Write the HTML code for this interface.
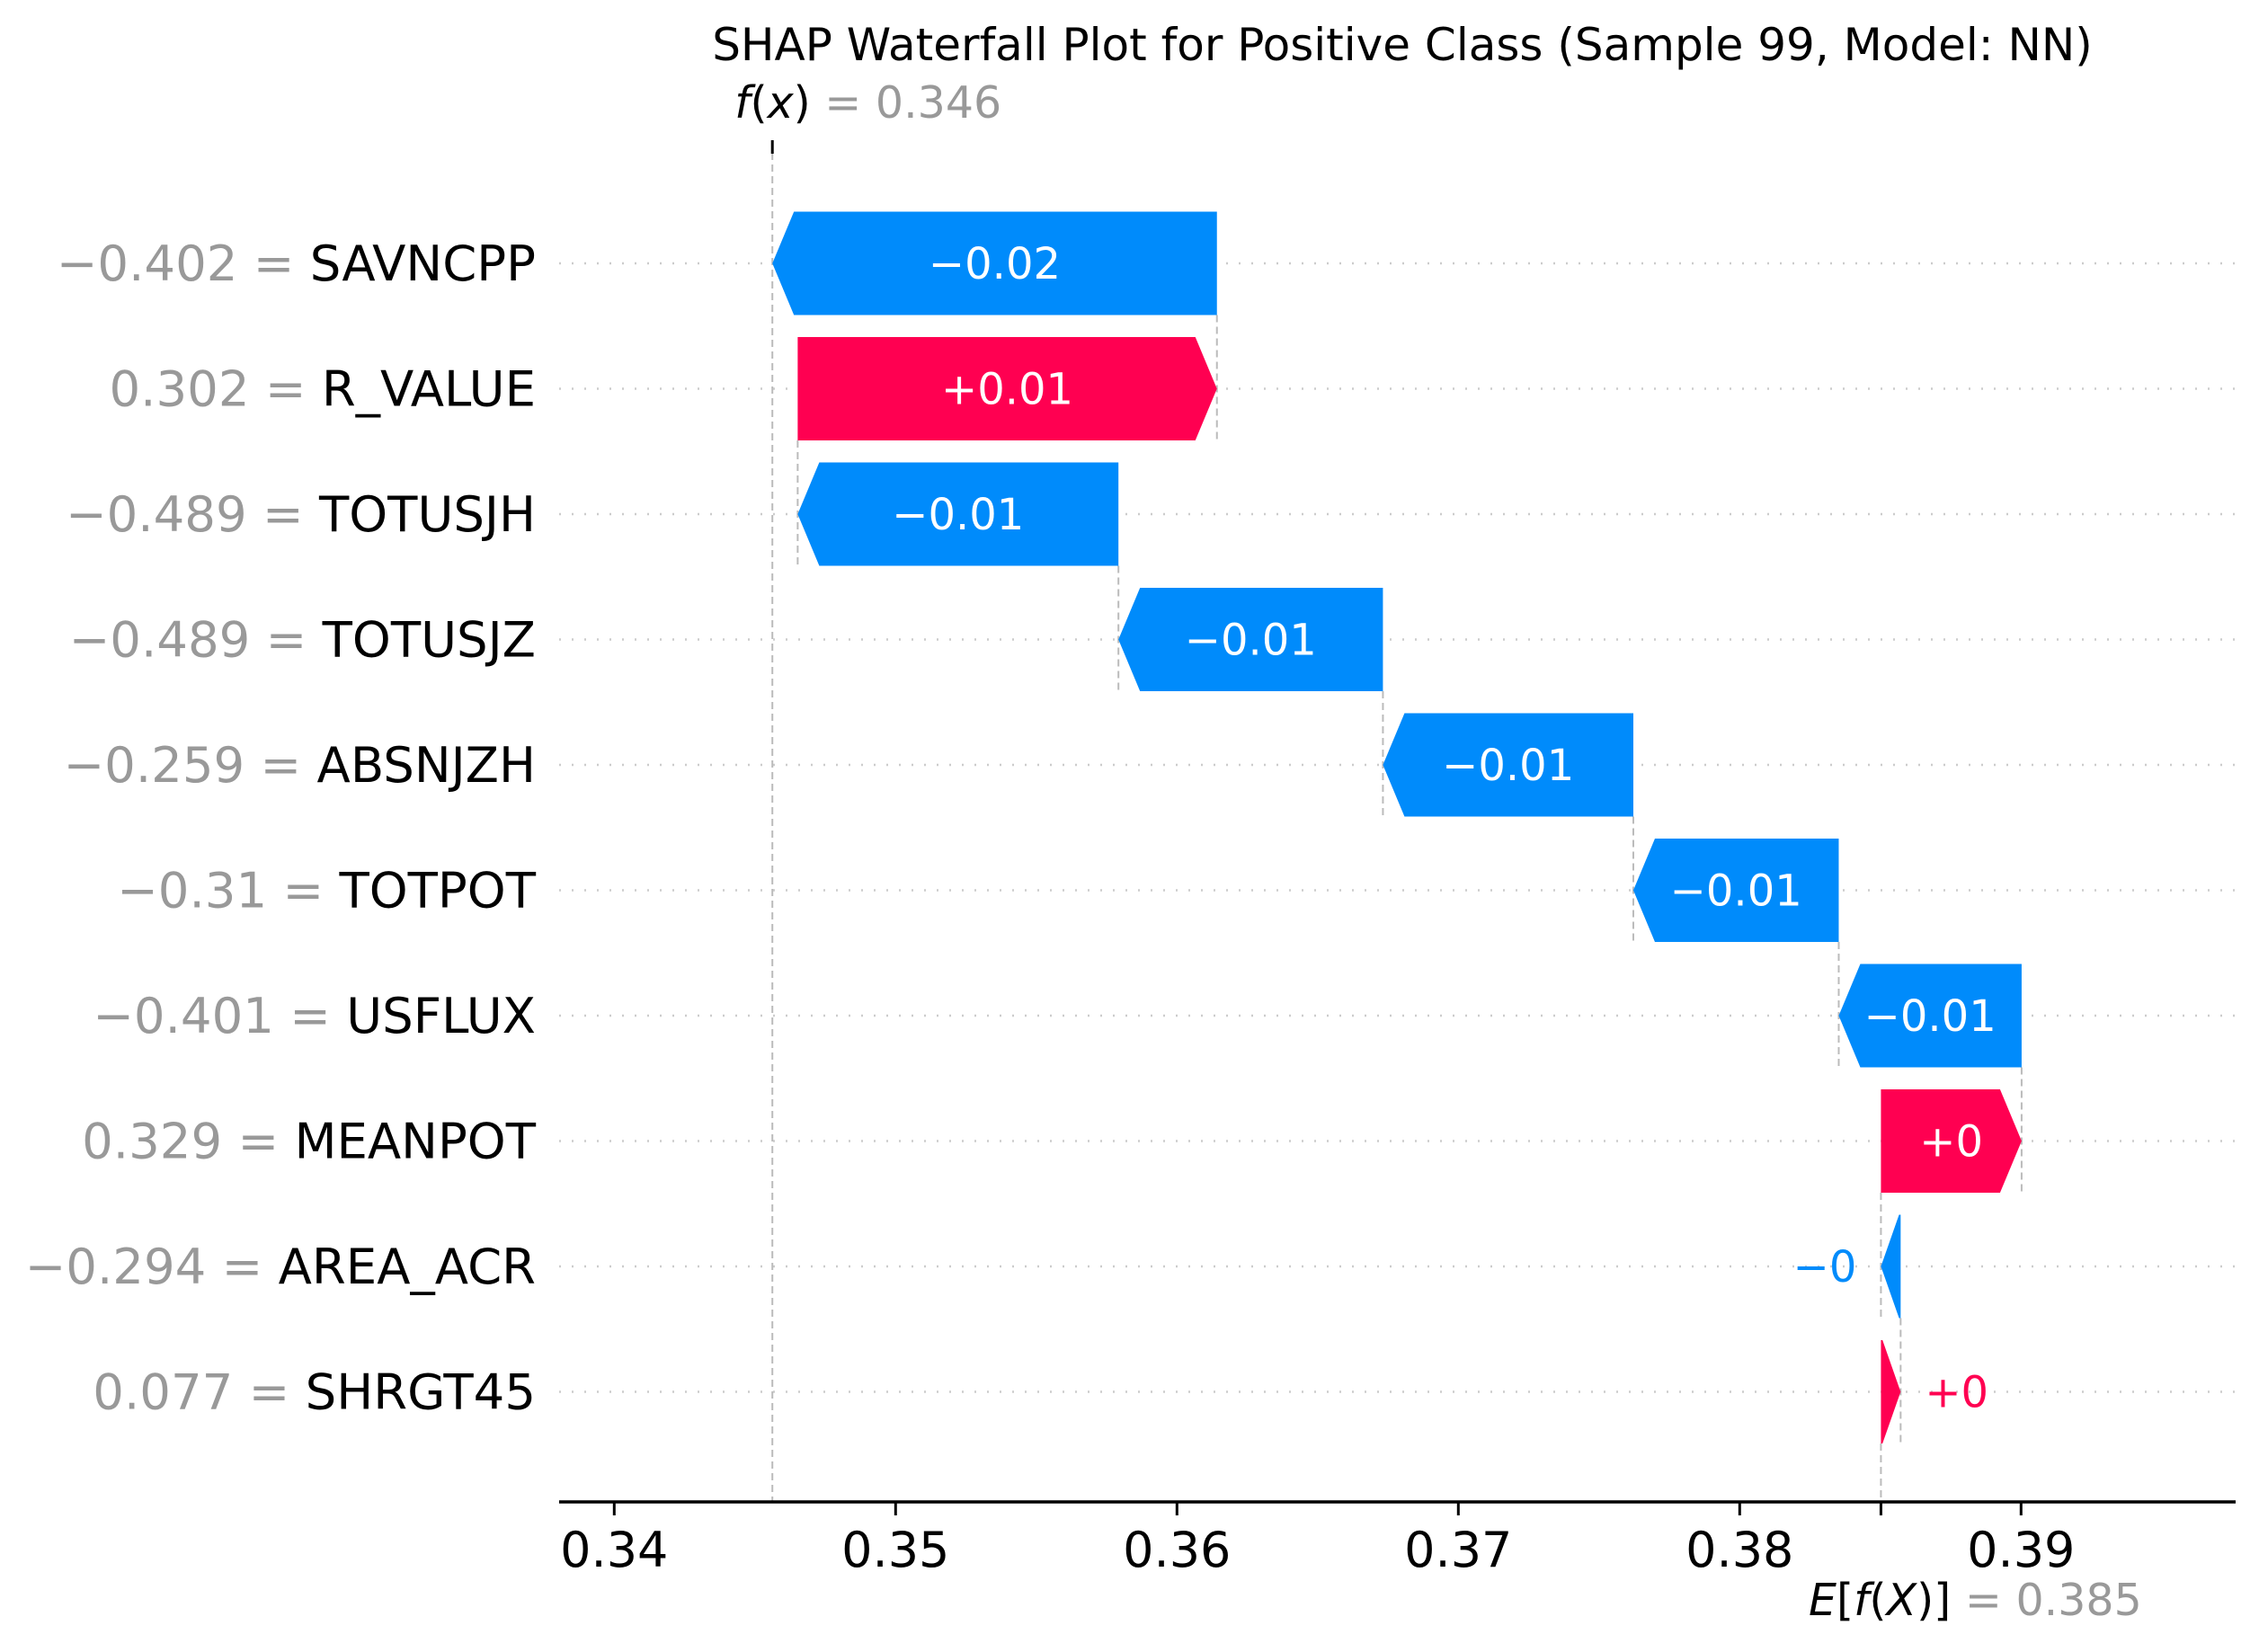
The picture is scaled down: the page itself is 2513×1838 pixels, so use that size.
<!DOCTYPE html>
<html><head><meta charset="utf-8">
<style>
html,body{margin:0;padding:0;background:#fff;}
svg{display:block;font-family:"DejaVu Sans","Liberation Sans",sans-serif;}
</style></head>
<body>
<svg id="chart" width="2513" height="1838" viewBox="0 0 2513 1838" xmlns="http://www.w3.org/2000/svg">
<text x="1560" y="67" font-size="50" text-anchor="middle" fill="#000">SHAP Waterfall Plot for Positive Class (Sample 99, Model: NN)</text>
<g id="grid"></g>
<g id="connectors"></g>
<g id="bars"></g>
<g id="labels"></g>
<g id="axis"></g>
</svg>
<script>
const features = ["SAVNCPP","R_VALUE","TOTUSJH","TOTUSJZ","ABSNJZH","TOTPOT","USFLUX","MEANPOT","AREA_ACR","SHRGT45"];
const featureValues = ["\u22120.402","0.302","\u22120.489","\u22120.489","\u22120.259","\u22120.31","\u22120.401","0.329","\u22120.294","0.077"];
const shapValues = [-0.0158,0.0149,-0.0114,-0.0094,-0.0089,-0.0073,-0.0065,0.0050,-0.0007,0.0007];
const shapLabels = ["\u22120.02","+0.01","\u22120.01","\u22120.01","\u22120.01","\u22120.01","\u22120.01","+0","\u22120","+0"];
const baseValue = 0.38502;
const fxValue = 0.346;
const baseLabel = "0.385";
const xTicks = [0.34,0.35,0.36,0.37,0.38,0.39];
const xTickLabels = ["0.34","0.35","0.36","0.37","0.38","0.39"];

const NS = "http://www.w3.org/2000/svg";
const BLUE = "#008bfb", RED = "#ff0051";
const x = v => 683.3 + (v - 0.34) * 31300;
const rowY = i => 293 + i * 139.5;
const BH = 115, HEAD = 24, AXIS_Y = 1671, PLOT_L = 622, PLOT_R = 2487;
function mk(tag, attrs, parent){const e=document.createElementNS(NS,tag);for(const k in attrs)e.setAttribute(k,attrs[k]);parent.appendChild(e);return e;}
const grid=document.getElementById('grid'),conn=document.getElementById('connectors'),bars=document.getElementById('bars'),labels=document.getElementById('labels'),axis=document.getElementById('axis');

const n = features.length;
const starts = new Array(n), ends = new Array(n);
let cur = baseValue;
for (let i = n-1; i >= 0; i--) { starts[i] = cur; ends[i] = cur + shapValues[i]; cur = ends[i]; }
const finalValue = cur;

for (let i = 0; i < n; i++) {
  const cy = rowY(i);
  const g = mk('line',{x1:PLOT_L,x2:PLOT_R,y1:cy,y2:cy,stroke:'#ccc','stroke-width':2.5,'stroke-dasharray':'2 12'},grid);
  
  
  const x0 = x(starts[i]), x1 = x(ends[i]);
  const w = Math.abs(x1 - x0);
  const h = Math.min(HEAD, w * 0.92);
  const top = cy - BH/2, bot = cy + BH/2;
  const pos = shapValues[i] >= 0;
  let pts;
  if (pos) pts = [[x0,top],[x1-h,top],[x1,cy],[x1-h,bot],[x0,bot]];
  else pts = [[x0,top],[x1+h,top],[x1,cy],[x1+h,bot],[x0,bot]];
  const p = mk('polygon',{points:pts.map(q=>q.join(',')).join(' '),fill:pos?RED:BLUE},bars);
  
  
  let t;
  if (w > 110) {
    t = mk('text',{x:(x0+x1)/2,y:cy+17,'font-size':48,'text-anchor':'middle',fill:'#fff'},labels);
  } else if (pos) {
    t = mk('text',{x:Math.max(x0,x1)+27,y:cy+17,'font-size':48,'text-anchor':'start',fill:RED},labels);
  } else {
    t = mk('text',{x:Math.min(x0,x1)-27,y:cy+17,'font-size':48,'text-anchor':'end',fill:BLUE},labels);
  }
  t.textContent = shapLabels[i];
  
  
  const fl = mk('text',{x:596,y:cy+19,'font-size':54.5,'text-anchor':'end'},labels);
  
  
  const s1 = mk('tspan',{fill:'#999'},fl); s1.textContent = featureValues[i] + " = ";
  const s2 = mk('tspan',{fill:'#000'},fl); s2.textContent = features[i];
  if (i >= 1) {
    const c = mk('line',{x1:x(ends[i]),x2:x(ends[i]),y1:rowY(i-1)+BH/2,y2:cy+BH/2,stroke:'#bbb','stroke-width':2,'stroke-dasharray':'8 5'},conn);
    
    
  }
}
const fxl = mk('line',{x1:x(finalValue),x2:x(finalValue),y1:170,y2:AXIS_Y,stroke:'#bbb','stroke-width':2,'stroke-dasharray':'8 5'},conn);


const fxt = mk('line',{x1:x(finalValue),x2:x(finalValue),y1:156,y2:171,stroke:'#000','stroke-width':3},axis);


const fxLab = mk('text',{x:x(finalValue)-42,y:131,'font-size':49},axis);


const a1=mk('tspan',{'font-style':'italic',fill:'#000'},fxLab);a1.textContent='f';
const a2=mk('tspan',{fill:'#000'},fxLab);a2.textContent='(';
const a3=mk('tspan',{'font-style':'italic',fill:'#000'},fxLab);a3.textContent='x';
const a4=mk('tspan',{fill:'#000'},fxLab);a4.textContent=')';
const a5=mk('tspan',{fill:'#999'},fxLab);a5.textContent=' = '+fxValue.toFixed(3);
const el = mk('line',{x1:x(baseValue),x2:x(baseValue),y1:rowY(n-1)+BH/2,y2:AXIS_Y,stroke:'#bbb','stroke-width':2,'stroke-dasharray':'8 5'},conn);


const ax = mk('line',{x1:PLOT_L,x2:PLOT_R,y1:AXIS_Y,y2:AXIS_Y,stroke:'#000','stroke-width':3.5},axis);


xTicks.forEach((v,k)=>{
  const tk = mk('line',{x1:x(v),x2:x(v),y1:AXIS_Y,y2:AXIS_Y+15,stroke:'#000','stroke-width':3},axis);
  
  
  const tl = mk('text',{x:x(v),y:AXIS_Y+72,'font-size':54,'text-anchor':'middle',fill:'#000'},axis);
  tl.textContent = xTickLabels[k];
  
  
});
const et = mk('line',{x1:x(baseValue),x2:x(baseValue),y1:AXIS_Y,y2:AXIS_Y+15,stroke:'#000','stroke-width':3},axis);


const eLab = mk('text',{x:2012,y:1797,'font-size':49},axis);


const b1=mk('tspan',{'font-style':'italic',fill:'#000'},eLab);b1.textContent='E';
const b2=mk('tspan',{fill:'#000'},eLab);b2.textContent='[';
const b3=mk('tspan',{'font-style':'italic',fill:'#000'},eLab);b3.textContent='f';
const b4=mk('tspan',{fill:'#000'},eLab);b4.textContent='(';
const b5=mk('tspan',{'font-style':'italic',fill:'#000'},eLab);b5.textContent='X';
const b6=mk('tspan',{fill:'#000'},eLab);b6.textContent=')]';
const b7=mk('tspan',{fill:'#999'},eLab);b7.textContent=' = '+baseLabel;
</script>
</body></html>
